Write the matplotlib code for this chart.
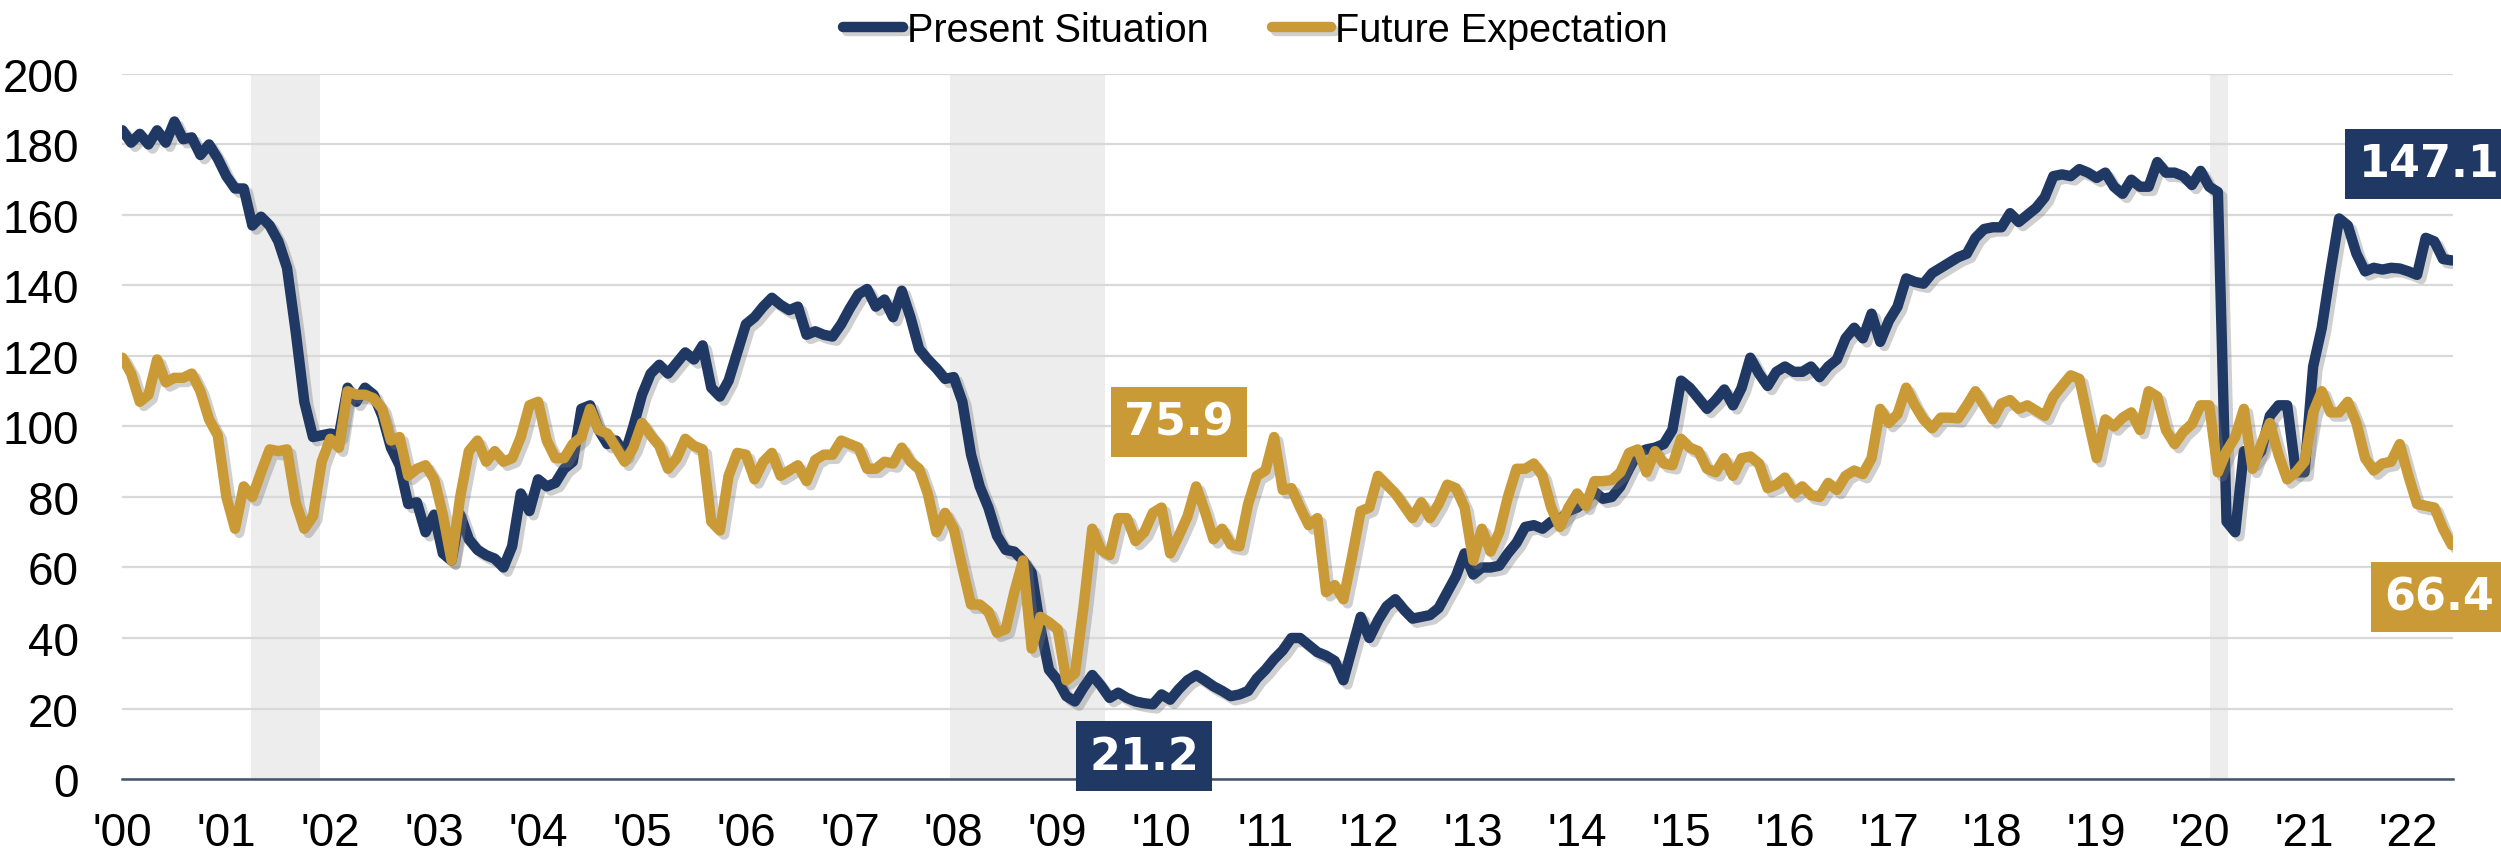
import matplotlib.pyplot as plt
import matplotlib.patheffects as pe
import numpy as np

plt.rcParams['font.family'] = ['Liberation Sans Narrow', 'Liberation Sans', 'DejaVu Sans']

# monthly values, Jan 2000 - Jun 2022
present = [
    184, 180.5, 183, 180, 184, 180.5, 186.5, 181.5, 182, 177, 180, 176,
    171, 167.5, 167.5, 157, 159.5, 157, 152.5, 145, 127, 107, 97, 97.5,
    98, 97.5, 111, 107, 111, 109, 103, 94, 89, 78, 78.5, 70,
    75, 64, 62, 75, 68, 65, 63.5, 62.5, 60, 66, 81, 76,
    85, 83, 84, 88, 90, 105, 106, 99, 95, 96, 92, 100,
    109, 115, 117.5, 115, 118, 121, 119, 123, 111, 108.5, 113, 121,
    129, 131, 134, 136.5, 134.5, 133, 134, 126, 127, 126, 125.5, 129,
    133.5, 137.5, 139, 134, 136, 131, 138.5, 131, 122, 119, 116.5, 113.5,
    114, 107, 92, 83, 77, 69, 65, 64.5, 62, 58.5, 43, 31,
    28, 23.5, 22, 26, 29.5, 26.5, 23, 24.5, 23, 22, 21.5, 21.2,
    24, 22.5, 25.5, 28, 29.5, 28, 26.3, 25, 23.5, 24, 25, 28.5,
    31, 34, 36.5, 40, 40, 38, 36, 35, 33.5, 28, 37, 46,
    40, 45, 49, 51, 48, 45.5, 46, 46.5, 48.5, 53, 57.5, 64,
    58, 60, 60, 60.5, 64, 67, 71.5, 72, 71, 73, 73.5, 76,
    77, 79, 81.5, 79.5, 80, 83, 88, 92.5, 93.5, 94, 95, 99,
    113, 111, 108, 105, 107.5, 110.5, 106, 111, 119.5, 115, 111.5, 115.5,
    117, 115.5, 115.5, 117, 114, 117, 119, 125, 128, 125, 132, 124,
    130, 134, 142, 141, 140.5, 143.5, 145, 146.5, 148, 149, 153.5, 156,
    156.5, 156.5, 160.5, 158, 160, 162, 165, 171, 171.5, 171, 173, 172,
    170.5, 172, 168, 166, 170, 168, 168, 175, 172, 172, 171, 168.5,
    172.5, 168, 166.5, 73, 70, 93, 90, 93, 103, 106, 106, 87,
    87, 117, 128, 144, 159, 157, 149, 144, 145, 144.5, 145, 144.8,
    144, 143, 153.5, 152.5, 147.5, 147.1,
]

future = [
    119.5, 115, 107, 109, 119, 112.5, 113.8, 113.8, 115, 110, 102, 97.5,
    80, 71, 83, 80, 87, 93.5, 93, 93.5, 78.5, 71, 74.5, 90,
    96.5, 94, 110, 109, 109, 108, 105, 96, 97, 86, 88, 89,
    85, 75, 62, 80, 93, 96, 90, 93, 90, 91, 97, 106,
    107, 96, 91, 91, 95, 97, 105, 99, 98, 94, 90, 94,
    101, 97.5, 94.5, 88, 91, 96.5, 94.5, 93.5, 73, 70.5, 86, 92.5,
    92, 85, 90, 92.5, 86, 87.5, 89, 84.5, 90.5, 92, 92, 96,
    95, 94, 88, 88, 90, 89.5, 94, 90, 88, 81, 70, 75.5,
    71, 60, 49.5, 49.5, 47.5, 41.5, 42.5, 53, 62, 37, 46, 44.5,
    42.5, 28, 30, 49, 71, 65, 63.5, 74, 74, 67.5, 70, 75.5,
    77, 64, 69, 74.5, 83, 76, 68, 71, 66.5, 66, 78, 86,
    87.5, 97, 82, 82.5, 77, 72, 74, 53, 55, 51, 63, 76,
    77, 86, 83.5, 81, 77.5, 74, 78.5, 74, 78, 83.5, 82.5, 77,
    62, 71, 64.5, 70, 80, 88, 88, 89.5, 86, 77, 71.5, 77,
    81, 77.5, 84.5, 84.5, 84.8, 87, 92.5, 93.5, 87, 93, 89.5, 89,
    96.5, 94, 93, 88, 87, 91, 86, 91, 91.5, 89.5, 82.5, 83.5,
    85.5, 81, 83, 80.5, 80, 84, 82, 86, 87.5, 86.5, 91, 105,
    101, 103.5, 111, 106, 102, 99.5, 102.5, 102.5, 102.3, 106, 110, 106,
    102, 106.5, 107.5, 105, 106, 104.5, 103, 108.5, 111.5, 114.5, 113.5, 102,
    91, 102, 100, 102.5, 104, 99, 110, 108.5, 99, 95, 98.5, 100.7,
    106, 106, 87, 93, 97, 105, 88, 95, 101, 92, 85, 87,
    90, 104, 110, 104, 104, 107, 101, 91, 87.5, 89.5, 90, 95,
    86, 78, 77.5, 77, 71, 66.4,
]

year_labels = ["'%02d" % y for y in range(0, 23)]
# recessions in months since Jan 2000
recessions = [(14.8, 22.8), (95.6, 113.5), (241.1, 243.2)]

navy = '#203864'
gold = '#C99A35'

fig = plt.figure(figsize=(25.01, 8.62), dpi=100)
ax = fig.add_axes([0.0488, 0.0951, 0.932, 0.818])

months = np.arange(len(present))

for a, b in recessions:
    ax.axvspan(a, b, color='#EDEDED', lw=0, zorder=0)

shadow = [pe.SimpleLineShadow(offset=(3, -3), shadow_color='#777777', alpha=0.35), pe.Normal()]
ax.plot(months, present, color=navy, lw=7.5, solid_joinstyle='round', solid_capstyle='round',
        path_effects=shadow, zorder=3, label='Present Situation')
ax.plot(months, future, color=gold, lw=7.5, solid_joinstyle='round', solid_capstyle='round',
        path_effects=shadow, zorder=4, label='Future Expectation')

ax.set_xlim(-0.05, 269.15)
ax.set_ylim(0, 200)
ax.set_yticks(range(0, 201, 20))
ax.set_xticks(range(0, 12 * 23, 12))
ax.set_xticklabels(year_labels)
ax.grid(axis='y', color='#D9D9D9', lw=1.6, zorder=1)
ax.set_axisbelow(True)
for s in ['top', 'right', 'left']:
    ax.spines[s].set_visible(False)
ax.spines['bottom'].set_color('#44546A')
ax.spines['bottom'].set_linewidth(1.8)
ax.spines['bottom'].set_zorder(5)
ax.tick_params(axis='both', length=0, labelsize=33)
ax.tick_params(axis='y', pad=31)
ax.tick_params(axis='x', pad=23)

# value boxes
box_font = dict(fontsize=32, fontweight='bold', color='white', family='DejaVu Sans',
                ha='center', va='center', zorder=6, clip_on=False)
ax.text(266.4, 174.5, '147.1', bbox=dict(boxstyle='square,pad=0.3', fc=navy, ec='none'), **box_font)
ax.text(267.6, 51.6, '66.4', bbox=dict(boxstyle='square,pad=0.3', fc=gold, ec='none'), **box_font)
ax.text(122, 101.2, '75.9', bbox=dict(boxstyle='square,pad=0.3', fc=gold, ec='none'), **box_font)
ax.text(118, 6.5, '21.2', bbox=dict(boxstyle='square,pad=0.3', fc=navy, ec='none'), **box_font)

fig.legend(loc='center', bbox_to_anchor=(0.502, 0.964), ncol=2, frameon=False,
           fontsize=28.5, handlelength=1.5, handletextpad=0.1, columnspacing=1.6)

fig.savefig('out.png', dpi=100)
